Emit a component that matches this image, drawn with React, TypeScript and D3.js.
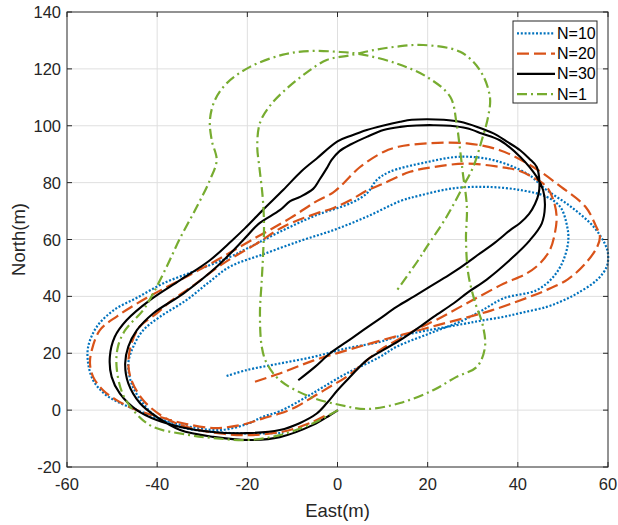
import React from "react";
import * as d3 from "d3";

const W = 618;
const H = 525;
const PL = 67, PR = 608, PT = 12, PB = 467;

const xTicks = [-60, -40, -20, 0, 20, 40, 60];
const yTicks = [-20, 0, 20, 40, 60, 80, 100, 120, 140];
const legendLabels = ["N=10", "N=20", "N=30", "N=1"];
const xLabel = "East(m)";
const yLabel = "North(m)";

type P = [number, number];

// N=10 (blue dotted)
const n10: P[] = [
  [-24.6, 12.0], [-20.1, 14.1], [-12.8, 16.4], [-5.4, 18.7], [2, 21.7], [9.4, 24.0], [13.1, 25.8],
  [20.5, 28.2], [27.9, 30.3], [32, 31.5], [36.8, 32.8], [41, 34.3], [46.4, 36.3], [50, 38.5],
  [53.1, 41.0], [57.5, 45.7], [59.7, 50.4], [60, 55], [59.3, 58.5], [56.8, 64.5], [51.8, 71.5],
  [46.4, 77.4], [42, 83.2], [34.6, 87.9], [27.2, 89.1], [19.8, 87.2], [11.6, 83.8], [8.7, 80.9],
  [6.5, 76.2], [2.8, 72.7], [-4.6, 68.6], [-12.0, 63.3], [-19.4, 57.4], [-23.8, 53.9], [-31.2, 49.2],
  [-38.6, 44.6], [-44.5, 39.5], [-49.6, 35.2], [-53.4, 29.3], [-55.3, 22.3], [-55.3, 16.4],
  [-54.2, 10.5], [-51.8, 5.9], [-48.9, 3.0], [-44.5, 0], [-38.6, -3.5], [-32.7, -5.9], [-26, -7.0],
  [-20.1, -4.9], [-16.5, -2.3], [-12.8, -0.4], [-6.8, 4.7], [-3.1, 8.2], [2, 12.9], [9.4, 18.7],
  [13.1, 22.3], [20.5, 27.0], [27.9, 31.6], [32, 35], [36.8, 39.3], [44.2, 42.2], [47.9, 46.9],
  [50.1, 52.7], [51.2, 59.8], [50.8, 65.6], [49.4, 71.5], [46.4, 75.0], [40.5, 77.4], [33.1, 78.5],
  [25.7, 78.0], [18.3, 75.5], [13.9, 73.5], [6.5, 68], [-0.9, 63.3], [-8.3, 59.5], [-16.5, 54.8],
  [-23.8, 50.5], [-28.5, 45], [-33.5, 38.7], [-39.4, 32.8], [-43.1, 28.1], [-45.3, 22.3],
  [-46.4, 16.4], [-45.7, 9.4], [-43.1, 2.3], [-40.1, -2.4], [-34.9, -5.9], [-28.3, -7.6],
  [-19.4, -8.2], [-12, -8.0]
];

// N=20 (red dashed)
const n20: P[] = [
  [-18.3, 10], [-12.8, 12.9], [-5.4, 17.4], [2, 21], [9.4, 24.4], [16, 27.2], [22, 29.8], [28, 32.3],
  [34, 35], [40, 38.3], [45.7, 41.8], [51, 45.9], [55, 51.6], [57.6, 57.4], [58.2, 61], [57.3, 64.8],
  [55, 71.5], [49.6, 78.5], [43.4, 85.5], [36, 91.4], [28.7, 93.8], [19.8, 93.8], [13.5, 92.6],
  [10.2, 90.8], [5, 85.5], [1.3, 79.7], [-1, 76.5], [-4.6, 73.5], [-10.5, 67.5], [-19.4, 59.5],
  [-26.8, 52.7], [-34.9, 45.7], [-42.3, 39.5], [-48.9, 33], [-52.7, 28.1], [-54.5, 21.1],
  [-54.9, 16.4], [-54.2, 11.7], [-52.0, 7.0], [-49.0, 3.5], [-44.5, 0], [-39.4, -2.4], [-33.5, -4.9],
  [-27.6, -6.3], [-23.9, -5.9], [-20.1, -4.7], [-16.5, -2.9], [-12.8, -1.2], [-9.1, 1.2], [-5.4, 4.7],
  [-1.7, 8.2], [2, 11.7], [5.7, 16.4], [9.4, 21.1], [14, 25.3], [18.3, 29.0], [22, 31.8], [29.4, 38.2],
  [36.8, 44.4], [42, 48.1], [44.9, 51.6], [47.1, 56.3], [48.2, 62.1], [48.6, 68.0], [47.9, 73.8],
  [46.4, 78.5], [42.7, 82.4], [39.8, 84.4], [36, 85.5], [28.7, 86.7], [21.3, 85.5], [16.1, 83.8],
  [10.2, 79.7], [6.5, 77.2], [2.8, 73.8], [-1, 71], [-4.6, 69.2], [-12.0, 64.5], [-17.9, 58.6],
  [-25.3, 51.6], [-32.7, 43], [-37, 38.3], [-40.1, 34.0], [-43.9, 29.3], [-45.7, 23.4], [-46.4, 16.4],
  [-45.7, 10.5], [-43.1, 3.5], [-38.6, -2.4], [-33.5, -5.9], [-26.0, -8.2], [-19.4, -8.8],
  [-12, -7.5], [-6, -4.5], [-2.5, -1.8]
];

// N=30 (black solid)
const n30: P[] = [
  [-8.7, 10.5], [-5, 15.2], [-1.7, 19.9], [2, 24], [5.7, 28.1], [9.5, 32.3], [13.1, 36.3], [17, 40],
  [20.5, 43.4], [23.5, 46.3], [26.4, 49.2], [31.6, 55.1], [35, 59], [38.3, 63.3], [40.5, 65.8],
  [42.5, 69], [43.8, 72.5], [44.6, 76], [44.8, 80], [44.2, 85.5], [42.5, 88.5], [40.5, 91.4],
  [37.5, 94.5], [34.6, 97.3], [31, 99.6], [27.2, 101.4], [23.5, 102.1], [19.8, 102.3], [16.5, 102.1],
  [13.9, 101.4], [10, 100], [6.5, 98.5], [3, 96.5], [0, 94.5], [-4.6, 88.5], [-8, 84], [-12, 77.5],
  [-16.5, 70.5], [-20.5, 64], [-23.5, 59.5], [-28.3, 52.7], [-34.9, 45.7], [-41.6, 38.7],
  [-46.8, 31.6], [-49.4, 25.8], [-50.5, 18.7], [-50.1, 11.7], [-48.3, 5.9], [-44.5, 0], [-40.1, -3.5],
  [-34.9, -5.9], [-28.3, -7.6], [-20.1, -8.1], [-12.8, -7.0], [-8.3, -4.5], [-4.6, -1.2], [-2.4, 2.4],
  [0, 7], [2.8, 11.7], [6.5, 17.6], [10, 21], [13.9, 24.6], [18, 29], [21.3, 32.8], [25.7, 37.5],
  [29, 41.5], [33.1, 45.9], [39.0, 53.9], [42.7, 59.8], [45.3, 65.6], [46.0, 71.5], [45.6, 77.4],
  [44.2, 82.0], [40.5, 89.1], [36.0, 94.9], [32, 97.3], [28.7, 99.1], [25, 100], [21.3, 100.2],
  [17.5, 100.1], [13.9, 99.6], [10.2, 98.5], [6.5, 96.1], [3, 93.5], [0.4, 91], [-1.3, 88],
  [-2.4, 85], [-4, 81], [-5.4, 77.8], [-8.3, 75.0], [-10.5, 73.5], [-12.8, 70.3], [-17.5, 65.5],
  [-20.5, 60.5], [-26.8, 50.4], [-34.2, 41.0], [-40.9, 34.0], [-44.5, 28.1], [-46.4, 22.3],
  [-47.1, 16.4], [-46.4, 9.4], [-43.8, 2.4], [-40.1, -2.4], [-34.9, -7.0], [-27.6, -9.4],
  [-19.4, -10.5], [-12.8, -9.5], [-5.4, -5.2], [-1.7, -1.8], [0.1, 0]
];

// N=1 (green dash-dot)
const n1: P[] = [
  [0.1, 0], [-5.4, -4.6], [-12.8, -8.8], [-20.1, -10.5], [-27.6, -9.8], [-33.5, -8.6], [-40.9, -5.9],
  [-44.5, -1.5], [-47.6, 5.5], [-49.0, 15.2], [-48.7, 22.3], [-47.1, 28.1], [-43.1, 35.2], [-40.9, 41],
  [-37.9, 50.4], [-34.9, 60.5], [-31.2, 71.5], [-28.3, 80.9], [-26.8, 87.9], [-27.9, 94.9],
  [-28.3, 102], [-27.2, 109], [-24.6, 114.9], [-19.4, 120.7], [-12.1, 125], [-6.1, 126.3], [0, 126],
  [5.0, 125.2], [13.1, 121.9], [19.8, 117.2], [25.0, 110.2], [26.4, 100.9], [27.2, 91.4], [27.8, 83.3],
  [28.7, 71.5], [28.5, 60], [29.0, 48], [30.5, 38], [32.2, 30], [32.7, 22], [30.9, 15.2], [26.4, 11.7],
  [21.2, 7.0], [13.9, 2.5], [6.5, 0.4], [0.6, 1.8], [-6.1, 4.7], [-12.8, 10.5], [-15.7, 16.5],
  [-16.8, 22.3], [-17.2, 34.1], [-16.8, 45.7], [-16.5, 55], [-16.3, 65], [-16.6, 75], [-17.3, 85],
  [-17.8, 93], [-17.2, 101], [-15, 107], [-11.6, 112.6], [-7.1, 118.4], [-2.4, 123.1], [2.8, 124.8],
  [8, 126.6], [13, 127.8], [19.0, 128.4], [27.2, 126.0], [31.6, 119.5], [33.8, 110.2], [33.4, 103.1],
  [32.0, 94.9], [30.1, 85.5], [27.8, 78.5], [24.2, 68], [19.8, 57.4], [17.9, 52.7], [12.9, 41.5]
];

const seriesData = [n10, n20, n30, n1];
const seriesColors = ["#0072BD", "#D95319", "#000000", "#77AC30"];
const seriesDash = ["2 1.8", "12 5", "", "10 4 2 4"];
const seriesWidth = [2.2, 2.2, 2.1, 2.2];

export default function App() {
  const x = d3.scaleLinear().domain([-60, 60]).range([PL, PR]);
  const y = d3.scaleLinear().domain([-20, 140]).range([PB, PT]);
  const line = d3
    .line<P>()
    .x((d) => x(d[0]))
    .y((d) => y(d[1]))
    .curve(d3.curveCatmullRom.alpha(0.5));
  const font = "'Liberation Sans', Arial, Helvetica, sans-serif";
  const axisColor = "#262626";
  const tickLen = 5;
  const lgX = 513, lgY = 21, lgW = 84, lgH = 82;
  const lgRow = 20.3;

  return (
    <svg width={W} height={H} style={{ position: "absolute", left: 0, top: 0 }} fontFamily={font}>
      <rect x={0} y={0} width={W} height={H} fill="#ffffff" />
      <rect x={PL} y={PT} width={PR - PL} height={PB - PT} fill="#ffffff" />
      <g stroke="#dfdfdf" strokeWidth={1}>
        {xTicks.slice(1, -1).map((t) => (
          <line key={"gx" + t} x1={x(t)} x2={x(t)} y1={PT} y2={PB} />
        ))}
        {yTicks.slice(1, -1).map((t) => (
          <line key={"gy" + t} x1={PL} x2={PR} y1={y(t)} y2={y(t)} />
        ))}
      </g>
      <g fill="none">
        {seriesData.map((d, i) => (
          <path
            key={"s" + i}
            d={line(d) || ""}
            stroke={seriesColors[i]}
            strokeWidth={seriesWidth[i]}
            strokeDasharray={seriesDash[i] || undefined}
            strokeLinejoin="round"
          />
        ))}
      </g>
      <rect x={PL} y={PT} width={PR - PL} height={PB - PT} fill="none" stroke={axisColor} strokeWidth={1} />
      <g stroke={axisColor} strokeWidth={1}>
        {xTicks.map((t) => (
          <g key={"tx" + t}>
            <line x1={x(t)} x2={x(t)} y1={PB} y2={PB - tickLen} />
            <line x1={x(t)} x2={x(t)} y1={PT} y2={PT + tickLen} />
          </g>
        ))}
        {yTicks.map((t) => (
          <g key={"ty" + t}>
            <line x1={PL} x2={PL + tickLen} y1={y(t)} y2={y(t)} />
            <line x1={PR} x2={PR - tickLen} y1={y(t)} y2={y(t)} />
          </g>
        ))}
      </g>
      <g fill={axisColor} fontSize={16.5}>
        {xTicks.map((t) => (
          <text key={"lx" + t} x={x(t)} y={490} textAnchor="middle">
            {t}
          </text>
        ))}
        {yTicks.map((t) => (
          <text key={"ly" + t} x={61} y={y(t) + 6} textAnchor="end">
            {t}
          </text>
        ))}
      </g>
      <text x={(PL + PR) / 2} y={517} textAnchor="middle" fontSize={18.5} fill={axisColor}>
        {xLabel}
      </text>
      <text
        transform={`translate(25,${(PT + PB) / 2}) rotate(-90)`}
        textAnchor="middle"
        fontSize={18.5}
        fill={axisColor}
      >
        {yLabel}
      </text>
      <rect x={lgX} y={lgY} width={lgW} height={lgH} fill="#ffffff" stroke={axisColor} strokeWidth={1} />
      {legendLabels.map((lab, i) => {
        const cy = lgY + 12.3 + i * lgRow;
        return (
          <g key={"lg" + i}>
            <line
              x1={517}
              x2={555}
              y1={cy}
              y2={cy}
              stroke={seriesColors[i]}
              strokeWidth={seriesWidth[i]}
              strokeDasharray={seriesDash[i] || undefined}
            />
            <text x={557} y={cy + 5.5} fontSize={16} fill="#000000">
              {lab}
            </text>
          </g>
        );
      })}
    </svg>
  );
}
